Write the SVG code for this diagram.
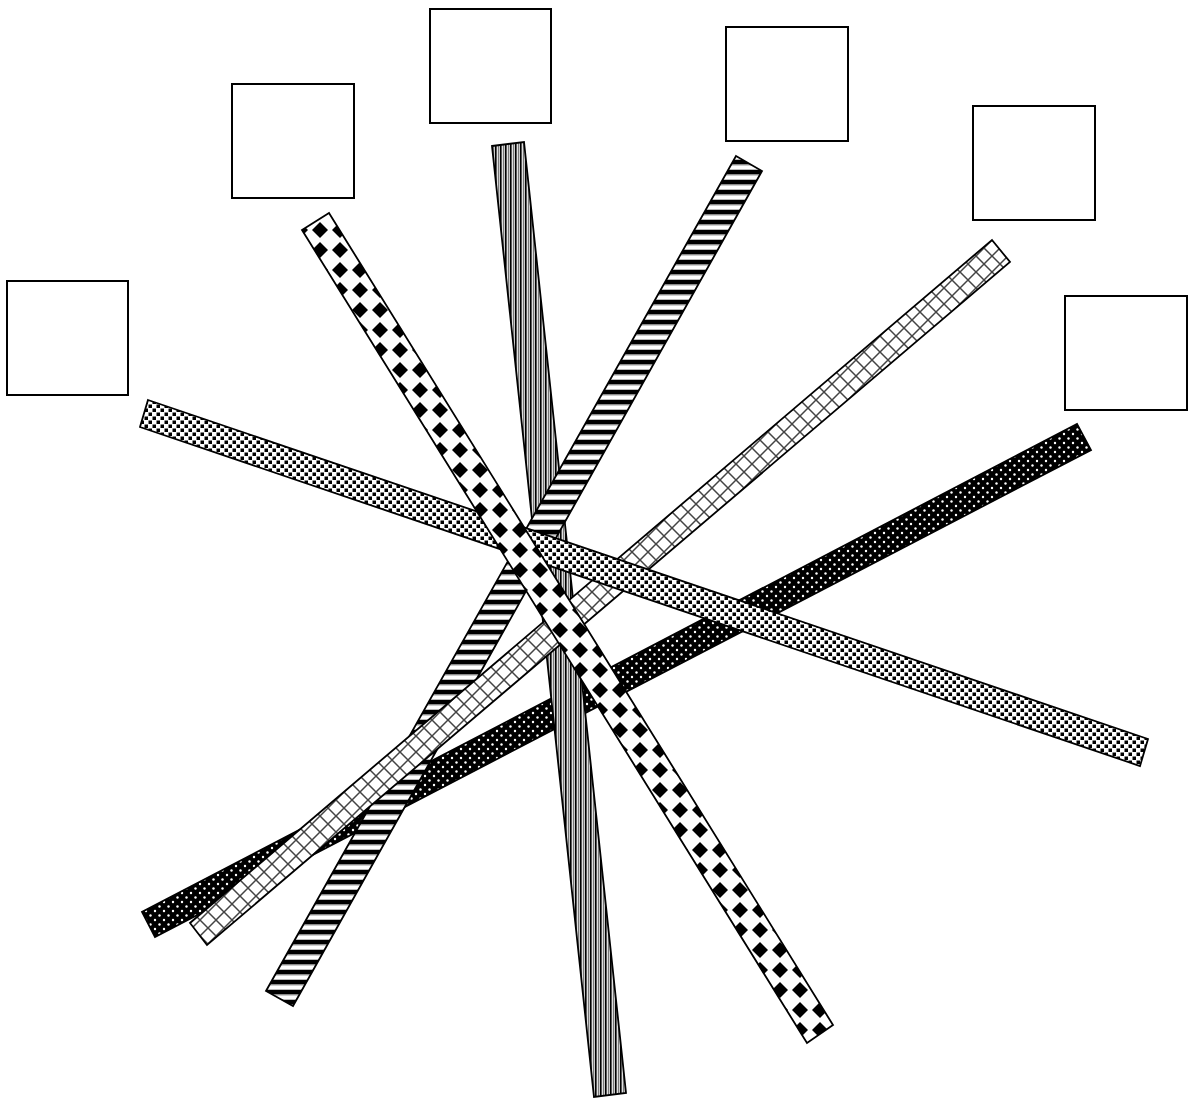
<svg xmlns="http://www.w3.org/2000/svg" width="1189" height="1099" viewBox="0 0 1189 1099">
<style>
.box{fill:#fff;stroke:#000;stroke-width:2}
.strip{stroke:#000;stroke-width:1.8;stroke-linejoin:miter}
</style>
<defs>
<pattern id="pA" width="8" height="8" patternUnits="userSpaceOnUse">
<rect width="8" height="8" fill="#fff"/>
<rect x="0.5" y="0.5" width="3.5" height="3.5" fill="#000"/>
<rect x="4.5" y="4.5" width="3.5" height="3.5" fill="#000"/>
</pattern>
<pattern id="pB" x="10" y="0" width="20" height="20" patternUnits="userSpaceOnUse">
<rect width="20" height="20" fill="#fff"/>
<path d="M10 2L18 10L10 18L2 10Z" fill="#000"/>
</pattern>
<pattern id="pC" width="5" height="10" patternUnits="userSpaceOnUse">
<rect width="5" height="10" fill="#e0e0e0"/>
<rect x="0" width="1.6" height="10" fill="#000"/>
<rect x="3" width="1.2" height="10" fill="#777"/>
</pattern>
<pattern id="pD" width="10" height="10" patternUnits="userSpaceOnUse">
<rect width="10" height="10" fill="#fff"/>
<rect y="0" width="10" height="4.5" fill="#000"/>
<rect y="4.5" width="10" height="1" fill="#999"/>
<rect y="9" width="10" height="1" fill="#bbb"/>
</pattern>
<pattern id="pE" width="16" height="16" patternUnits="userSpaceOnUse">
<rect width="16" height="16" fill="#fff"/>
<path d="M0 0L16 16M16 0L0 16M-2 14L2 18M14 -2L18 2M-2 2L2 -2M14 18L18 14" stroke="#444" stroke-width="1.5" fill="none"/>
</pattern>
<pattern id="pF" width="9" height="9" patternUnits="userSpaceOnUse">
<rect width="9" height="9" fill="#000"/>
<circle cx="2" cy="2" r="1.2" fill="#fff"/>
<circle cx="6.5" cy="6.5" r="1.2" fill="#fff"/>
</pattern>
</defs>
<g id="box1"><rect class="box" x="7" y="281" width="121" height="114"/></g>
<g id="box2"><rect class="box" x="232" y="84" width="122" height="114"/></g>
<g id="box3"><rect class="box" x="430" y="9" width="121" height="114"/></g>
<g id="box4"><rect class="box" x="726" y="27" width="122" height="114"/></g>
<g id="box5"><rect class="box" x="973" y="106" width="122" height="114"/></g>
<g id="box6"><rect class="box" x="1065" y="296" width="122" height="114"/></g>
<g id="connectors">
<polygon id="stripF" class="strip" fill="url(#pF)" points="1077,424 1091,450 155,937 142,912"/>
<polygon id="stripC" class="strip" fill="url(#pC)" points="492,146 524,142 626,1093 594,1097"/>
<polygon id="stripD" class="strip" fill="url(#pD)" points="736,156 762,171 293,1006 266,991"/>
<polygon id="stripE" class="strip" fill="url(#pE)" points="992,240 1010,262 207,945 190,923"/>
<polygon id="stripA" class="strip" fill="url(#pA)" points="148,400 1148,739 1140,766 140,427"/>
<polygon id="stripB" class="strip" fill="url(#pB)" points="302,230 329,213 833,1025 807,1043"/>
</g>
</svg>
